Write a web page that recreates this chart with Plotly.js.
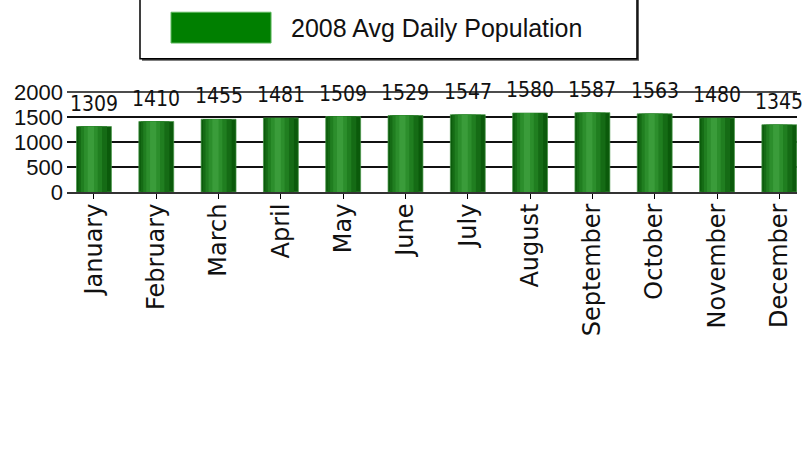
<!DOCTYPE html>
<html>
<head>
<meta charset="utf-8">
<script src="https://cdn.plot.ly/plotly-3.0.1.min.js"></script>
<style>
  html, body { margin: 0; padding: 0; background: #fff; }
  #chart { width: 810px; height: 470px; }
</style>
</head>
<body>
<div id="chart"></div>
<script>
// ---- data ----
const months = ["January", "February", "March", "April", "May", "June",
                "July", "August", "September", "October", "November", "December"];
const avgDailyPopulation = [1309, 1410, 1455, 1481, 1509, 1529, 1547, 1580, 1587, 1563, 1480, 1345];
const seriesName = "2008 Avg Daily Population";
const yTickValues = [0, 500, 1000, 1500, 2000];
const yTickLabels = ["0", "500", "1000", "1500", "2000"];
const yMax = 2000;

// ---- cylinder-like shading made of overlaid bars (same data) ----
const shadeLayers = [
  { width: 0.56, shift: 0.00, color: "#0b5a0b" },
  { width: 0.46, shift: -0.02, color: "#156b15" },
  { width: 0.34, shift: -0.04, color: "#207e20" },
  { width: 0.22, shift: -0.05, color: "#2c8e2c" },
  { width: 0.10, shift: -0.05, color: "#3a9c3a" }
];

const traces = shadeLayers.map((s, i) => ({
  type: "bar",
  name: seriesName,
  x: months,
  y: avgDailyPopulation,
  width: s.width,
  offset: -s.width / 2 + s.shift,
  marker: {
    color: s.color,
    line: i === 0 ? { color: "rgba(70,150,70,0.7)", width: 1 } : { width: 0 }
  },
  showlegend: false,
  hoverinfo: i === 0 ? "x+y" : "skip"
}));

const valueLabels = months.map((m, i) => ({
  x: m,
  y: avgDailyPopulation[i],
  xref: "x",
  yref: "y",
  text: String(avgDailyPopulation[i]),
  showarrow: false,
  yanchor: "middle",
  yshift: 23,
  font: { family: "DejaVu Sans Condensed, Liberation Sans Narrow, Liberation Sans, sans-serif", size: 21, color: "#111" }
}));

// paper coordinates: plot area spans x 67..797 px, y 91..192 px (101 px)
const legendAnn = {
  xref: "paper", yref: "paper",
  x: 0.3041, y: 1.624,
  xanchor: "left", yanchor: "middle",
  text: seriesName,
  showarrow: false,
  font: { family: "Liberation Sans, Arial, sans-serif", size: 25, color: "#111" }
};

const layout = {
  width: 810,
  height: 470,
  margin: { l: 67, r: 13, t: 91, b: 278, pad: 0 },
  paper_bgcolor: "#ffffff",
  plot_bgcolor: "#ffffff",
  barmode: "overlay",
  showlegend: false,
  xaxis: {
    type: "category",
    range: [-0.433, 11.284],
    tickangle: -90,
    ticks: "outside",
    ticklen: 5,
    tickcolor: "#000",
    tickwidth: 1,
    ticklabelstandoff: -5,
    showgrid: false,
    showline: true,
    linecolor: "#333",
    linewidth: 2,
    tickfont: { family: "DejaVu Sans, sans-serif", size: 24, color: "#111" },
    fixedrange: true
  },
  yaxis: {
    range: [0, 2020],
    tickvals: yTickValues,
    ticktext: yTickLabels,
    ticks: "",
    ticklabelstandoff: 3,
    showgrid: true,
    gridcolor: "#111",
    gridwidth: 1.5,
    zeroline: false,
    showline: false,
    tickfont: { family: "Liberation Sans, Arial, sans-serif", size: 22, color: "#111" },
    fixedrange: true
  },
  shapes: [
    // top gridline at the axis maximum
    { type: "line", xref: "paper", yref: "y", x0: 0, x1: 1, y0: yMax, y1: yMax,
      line: { color: "#111", width: 1.5 }, layer: "above" },
    // legend frame shadow
    { type: "rect", xref: "paper", yref: "paper",
      x0: 0.1027, x1: 0.7835, y0: 1.30, y1: 2.0,
      fillcolor: "#555", line: { width: 0 }, layer: "above" },
    // legend frame
    { type: "rect", xref: "paper", yref: "paper",
      x0: 0.1, x1: 0.7808, y0: 1.32, y1: 2.0,
      fillcolor: "#ffffff", line: { color: "#000", width: 1.5 }, layer: "above" },
    // legend swatch
    { type: "rect", xref: "paper", yref: "paper",
      x0: 0.1425, x1: 0.2795, y0: 1.475, y1: 1.78,
      fillcolor: "#007f00", line: { color: "#5cb85c", width: 1 }, layer: "above" }
  ],
  annotations: valueLabels.concat([legendAnn])
};

Plotly.newPlot("chart", traces, layout, { displayModeBar: false, staticPlot: true });
</script>
</body>
</html>
